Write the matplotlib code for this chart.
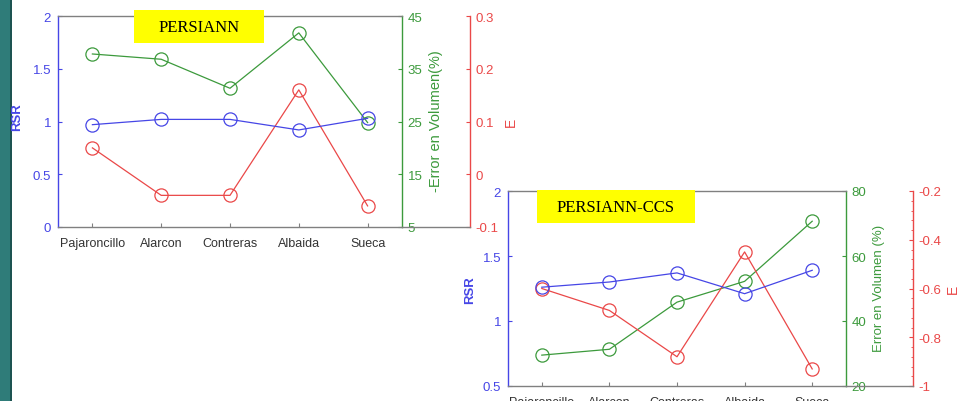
import numpy as np
import matplotlib
matplotlib.use("Agg")
import matplotlib.pyplot as plt
from matplotlib.patches import Rectangle
from matplotlib.ticker import FixedLocator, MultipleLocator, NullLocator

plt.rcParams["font.family"] = ["Liberation Sans", "DejaVu Sans"]
plt.rcParams["axes.unicode_minus"] = False

stations = ["Pajaroncillo", "Alarcon", "Contreras", "Albaida", "Sueca"]

# PERSIANN
persiann_rsr = [0.97, 1.02, 1.02, 0.92, 1.03]
persiann_vol = [37.8, 36.8, 31.3, 41.8, 24.8]
persiann_e = [0.05, -0.04, -0.04, 0.16, -0.06]

# PERSIANN-CCS
ccs_rsr = [1.26, 1.30, 1.37, 1.21, 1.39]
ccs_vol = [29.5, 31.3, 45.8, 52.2, 70.7]
ccs_e = [-0.60, -0.69, -0.88, -0.45, -0.93]

BLUE = "#4646e6"
GREEN = "#3c9a3c"
RED = "#ea4848"
GRAY = "#808080"
TXT = "#333333"

W, H = 961, 402
fig = plt.figure(figsize=(W / 100, H / 100), dpi=100)
fig.patch.set_facecolor("white")

# slide edge strip
fig.add_artist(Rectangle((0, 0), 10 / W, 1, transform=fig.transFigure,
                         facecolor="#2f7c79", edgecolor="none"))
fig.add_artist(Rectangle((10 / W, 0), 2 / W, 1, transform=fig.transFigure,
                         facecolor="#1d5351", edgecolor="none"))


def panel(px_left, px_right, px_top, px_bottom, title, box, rsr, vol, e,
          rsr_lim, rsr_ticks, vol_lim, vol_ticks, e_lim, e_ticks, e_minor,
          vol_label, vol_fs, red_off, rsr_lbl):
    rect = [px_left / W, 1 - px_bottom / H,
            (px_right - px_left) / W, (px_bottom - px_top) / H]
    ax = fig.add_axes(rect)
    ax.set_facecolor("none")
    axg = ax.twinx()
    axr = ax.twinx()
    x = np.arange(1, len(stations) + 1)

    mk = dict(marker="o", markersize=9.5, markerfacecolor="none",
              markeredgewidth=0.9, linewidth=0.9)
    axg.plot(x, vol, color=GREEN, **mk)
    axr.plot(x, e, color=RED, **mk)
    ax.plot(x, rsr, color=BLUE, **mk)
    ax.set_zorder(axr.get_zorder() + 1)

    ax.set_xlim(0.5, len(stations) + 0.5)
    ax.set_xticks(x)
    ax.set_xticklabels(stations, fontsize=9, color=TXT)
    ax.tick_params(axis="x", direction="in", length=3, color=GRAY, pad=7,
                   top=False)

    ax.set_ylim(*rsr_lim)
    ax.yaxis.set_major_locator(FixedLocator(rsr_ticks))
    ax.set_yticklabels(["%g" % t for t in rsr_ticks])
    ax.tick_params(axis="y", direction="in", length=3, color=BLUE,
                   labelcolor=BLUE, labelsize=9.5, pad=5)

    axg.set_ylim(*vol_lim)
    axg.yaxis.set_major_locator(FixedLocator(vol_ticks))
    axg.set_yticklabels(["%g" % t for t in vol_ticks])
    axg.tick_params(axis="y", direction="in", length=3, color=GREEN,
                    labelcolor=GREEN, labelsize=9.5, pad=4)

    axr.set_ylim(*e_lim)
    axr.yaxis.set_major_locator(FixedLocator(e_ticks))
    axr.set_yticklabels(["%g" % t for t in e_ticks])
    if e_minor:
        axr.yaxis.set_minor_locator(MultipleLocator(e_minor))
    else:
        axr.yaxis.set_minor_locator(NullLocator())
    # ticks of the E axis point toward the plot
    axr.tick_params(axis="y", which="both", direction="in", color=RED,
                    labelcolor=RED, labelsize=9.5)
    axr.tick_params(axis="y", which="major", length=3, pad=4)
    axr.tick_params(axis="y", which="minor", length=1.5)
    axr.spines["right"].set_position(("axes", red_off))

    for a in (ax, axg, axr):
        for s in a.spines.values():
            s.set_visible(False)
    ax.spines["left"].set_visible(True)
    ax.spines["left"].set_color(BLUE)
    for s in ("top", "bottom"):
        ax.spines[s].set_visible(True)
        ax.spines[s].set_color(GRAY)
    axg.spines["right"].set_visible(True)
    axg.spines["right"].set_color(GREEN)
    axr.spines["right"].set_visible(True)
    axr.spines["right"].set_color(RED)
    for s in (ax.spines["left"], ax.spines["top"], ax.spines["bottom"],
              axg.spines["right"], axr.spines["right"]):
        s.set_linewidth(1.0)

    # base line continues out to the E axis
    ax.plot([1, red_off], [0, 0], transform=ax.transAxes, color=GRAY,
            linewidth=1.0, clip_on=False)

    ax.text(rsr_lbl[0], rsr_lbl[1], "RSR", transform=ax.transAxes,
            rotation=90, ha="center", va="center", color=BLUE,
            fontsize=9.5, fontweight="bold")
    ax.text(1.098, 0.505, vol_label, transform=ax.transAxes, rotation=90,
            ha="center", va="center", color=GREEN, fontsize=vol_fs)
    ax.text(red_off + 0.118, 0.5, "E", transform=ax.transAxes, rotation=90,
            ha="center", va="center", color=RED, fontsize=10)

    # title box
    bx0, by0, bx1, by1 = box
    fig.add_artist(Rectangle((bx0 / W, 1 - by1 / H), (bx1 - bx0) / W,
                             (by1 - by0) / H, transform=fig.transFigure,
                             facecolor="#ffff00", edgecolor="none", zorder=5))
    fig.text((bx0 + bx1) / 2 / W, 1 - ((by0 + by1) / 2 + 1) / H, title,
             ha="center", va="center", fontsize=12, color="black",
             family=["Liberation Serif", "DejaVu Serif"], zorder=6)
    return ax


panel(58, 402, 17, 228, "PERSIANN", (134, 11, 264, 44),
      persiann_rsr, persiann_vol, persiann_e,
      (0, 2), [0, 0.5, 1, 1.5, 2],
      (5, 45), [5, 15, 25, 35, 45],
      (-0.1, 0.3), [-0.1, 0, 0.1, 0.2, 0.3], None,
      "-Error en Volumen(%)", 10.5, 1.198, (-0.119, 0.526))

panel(508, 846, 192, 387, "PERSIANN-CCS", (537, 191, 695, 224),
      ccs_rsr, ccs_vol, ccs_e,
      (0.5, 2), [0.5, 1, 1.5, 2],
      (20, 80), [20, 40, 60, 80],
      (-1, -0.2), [-1, -0.8, -0.6, -0.4, -0.2], 0.04,
      "Error en Volumen (%)", 9.5, 1.198, (-0.112, 0.497))

fig.savefig("out.png", dpi=100)
